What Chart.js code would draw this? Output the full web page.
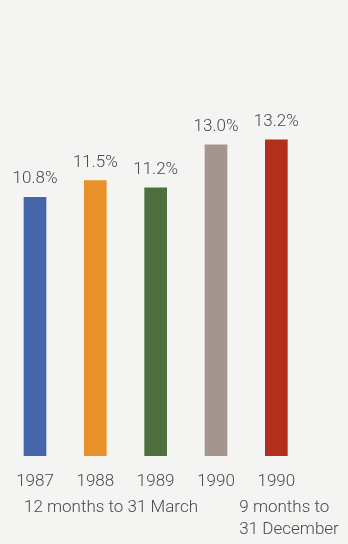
<!DOCTYPE html>
<html>
<head>
<meta charset="utf-8">
<script src="https://cdn.jsdelivr.net/npm/chart.js@4.4.1/dist/chart.umd.min.js"></script>
<style>
  html, body { margin: 0; padding: 0; background: #f4f4f2; }
  canvas { display: block; }
</style>
</head>
<body>
<canvas id="returnChart" width="348" height="544"></canvas>
<script>
const years = ['1987', '1988', '1989', '1990', '1990'];
const returns = [10.8, 11.5, 11.2, 13.0, 13.2];
const groupLabels = [['12 months to 31 March'], ['9 months to', '31 December']];
const groupStart = [0, 4];

const barColors = ['#4465aa', '#e8912b', '#4e703f', '#a4968f', '#b2301b'];
const textColor = '#4a4a4a';
const fontFamily = 'Roboto, "Liberation Sans", Arial, sans-serif';

// value labels above the bars and the period captions under the years
const labelsPlugin = {
    id: 'labels',
    afterDatasetsDraw(chart) {
        const ctx = chart.ctx;
        const meta = chart.getDatasetMeta(0);
        ctx.save();
        ctx.fillStyle = textColor;
        ctx.font = '300 17px ' + fontFamily;
        ctx.textAlign = 'center';
        ctx.textBaseline = 'alphabetic';
        meta.data.forEach((bar, i) => {
            ctx.fillText(returns[i].toFixed(1) + '%', bar.x, bar.y - 14);
        });

        const x = chart.scales.x;
        const offsets = [-11, -37];
        ctx.textAlign = 'left';
        ctx.textBaseline = 'middle';
        groupLabels.forEach((lines, g) => {
            const left = x.getPixelForValue(groupStart[g]) + offsets[g];
            lines.forEach((line, j) => {
                ctx.fillText(line, left, 508 + j * 22);
            });
        });
        ctx.restore();
    }
};

new Chart(document.getElementById('returnChart').getContext('2d'), {
    type: 'bar',
    data: {
        labels: years,
        datasets: [{
            data: returns,
            backgroundColor: barColors,
            borderWidth: 0,
            barThickness: 22,
        }],
    },
    options: {
        responsive: false,
        animation: false,
        devicePixelRatio: 1,
        layout: { padding: { top: 25, left: 1.5, right: 41.5, bottom: 35.6 } },
        plugins: { legend: { display: false }, tooltip: { enabled: false } },
        scales: {
            x: {
                grid: { display: false, drawTicks: false },
                border: { display: false },
                ticks: {
                    color: textColor,
                    padding: 16,
                    font: { family: fontFamily, size: 17, weight: 300 },
                },
            },
            y: {
                display: false,
                min: 0,
                max: 18,
            },
        },
    },
    plugins: [labelsPlugin],
});
</script>
</body>
</html>
